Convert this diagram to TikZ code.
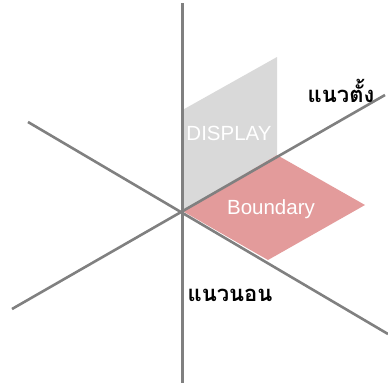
\documentclass[tikz,border=0pt]{standalone}
\usepackage{fontspec}
\setmainfont{Liberation Sans}
\newfontfamily\thaifont[Script=Thai]{Loma}
\usetikzlibrary{positioning}
\definecolor{axisgray}{HTML}{808080}
\definecolor{panelgray}{HTML}{D9D9D9}
\definecolor{panelpink}{HTML}{E39B9B}

\begin{document}
\begin{tikzpicture}[
  x=1pt,y=-1pt,
  axis/.style={draw=axisgray,line width=2.6pt},
  paneltext/.style={text=white,font=\fontsize{20.5}{24}\selectfont,inner sep=0pt},
  thaitext/.style={text=black,font=\thaifont\bfseries\fontsize{22}{26}\selectfont,inner sep=0pt}]
  \useasboundingbox(0,0)rectangle(388,383);
  % corners
  \coordinate(O) at(182.5,211);
  \coordinate(Dt) at(182.5,110);
  \coordinate(Dr) at(277,57);
  \coordinate(Dm) at(277,155);
  \coordinate(Br) at(365,205);
  \coordinate(Bb) at(268,260);
  % axis ends
  \coordinate(Vt) at(182.5,3);
  \coordinate(Vb) at(182.5,383);
  \coordinate(Ll) at(12,309);
  \coordinate(Lr) at(385,95);
  \coordinate(Ml) at(28,122);
  \coordinate(Mr) at(388,334);
  \fill[panelgray](O)--(Dt)--(Dr)--(Dm)--cycle;
  \fill[panelpink](O)--(Dm)--(Br)--(Bb)--cycle;
  \draw[axis](Vt)--(Vb);
  \draw[axis](Ll)--(Lr);
  \draw[axis](Ml)--(Mr);
  \node[paneltext](display) at(229,133){DISPLAY};
  \node[paneltext](boundary) at(271,209){Boundary};
  \node[thaitext](vert) at(341,91){แนวตั้ง};
  \node[thaitext](horiz) at(230,295){แนวนอน};
\end{tikzpicture}
\end{document}
